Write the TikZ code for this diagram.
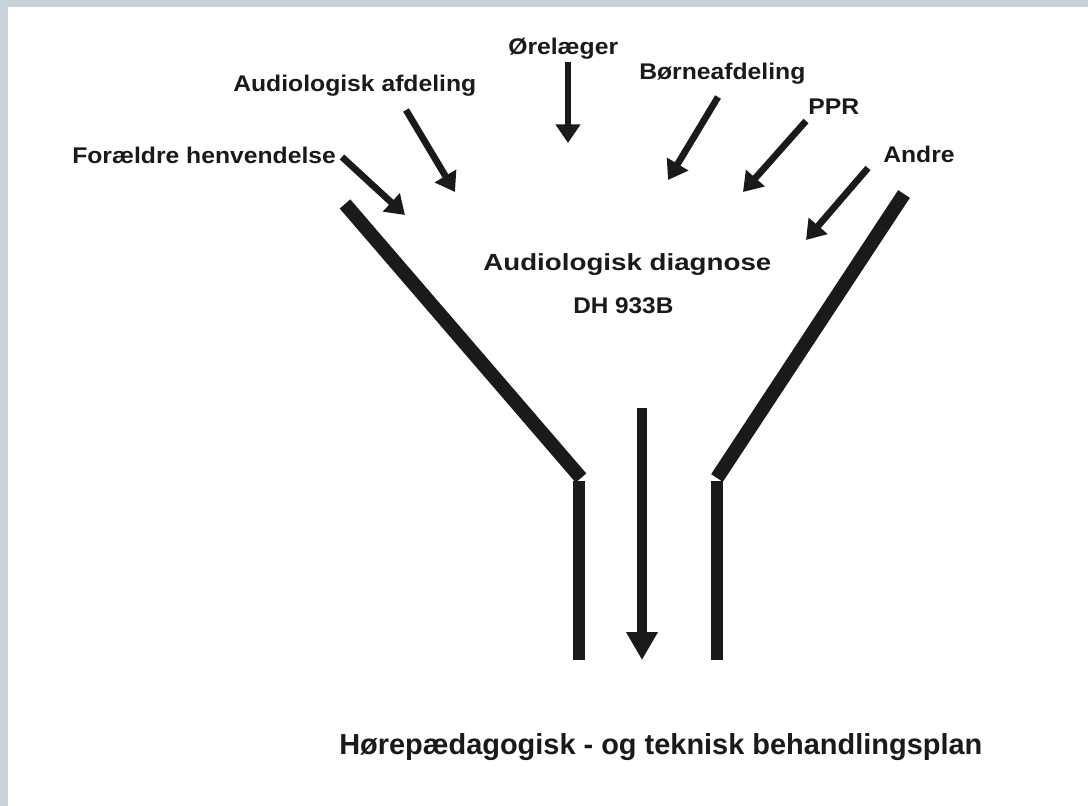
\documentclass[tikz,border=0pt]{standalone}
\usepackage{fontspec}
\setmainfont{Liberation Sans}
\usetikzlibrary{arrows.meta}
\definecolor{frame}{RGB}{200,210,217}
\definecolor{ink}{RGB}{26,26,26}
\begin{document}
\begin{tikzpicture}[x=0.75pt,y=-0.75pt,
  lab/.style={anchor=base west,inner sep=0pt,text=ink,font=\fontsize{17pt}{20pt}\selectfont\bfseries,xscale=1.09,transform shape},
  inarrow/.style={draw=ink,line width=5pt,-{Triangle[length=14pt,width=18pt]}},
  bigarrow/.style={draw=ink,line width=7.5pt,-{Triangle[length=21pt,width=22.5pt]}},
  wall/.style={draw=ink,line width=10.5pt},
  stem/.style={draw=ink,line width=9pt}]
\useasboundingbox (0,0) rectangle (1088,806);
\fill[frame] (0,0) rectangle (1088,806);
\fill[white] (8,7) rectangle (1088,806);

% labels
\node[lab] (foraeldre) at (72,164) {Forældre henvendelse};
\node[lab] (audafd) at (233,92) {Audiologisk afdeling};
\node[lab] (orelaeger) at (508,55) {Ørelæger};
\node[lab] (borne) at (639,80) {Børneafdeling};
\node[lab] (ppr) at (808,115) {PPR};
\node[lab] (andre) at (883,163) {Andre};
\node[lab,font=\fontsize{17.5pt}{20pt}\selectfont\bfseries,xscale=1.09] (diag) at (483,270) {Audiologisk diagnose};
\node[lab,xscale=0.985] (dh) at (573,313) {DH 933B};
\node[anchor=base west,inner sep=0pt,text=ink,font=\fontsize{21.7pt}{25pt}\selectfont\bfseries] (plan) at (339,754) {Hørepædagogisk - og teknisk behandlingsplan};

% incoming arrows
\coordinate (a1s) at (342,157); \coordinate (a1e) at (405,215);
\coordinate (a2s) at (406,110); \coordinate (a2e) at (455,192);
\coordinate (a3s) at (568,62);  \coordinate (a3e) at (568,143);
\coordinate (a4s) at (718,97);  \coordinate (a4e) at (668,180);
\coordinate (a5s) at (806,121); \coordinate (a5e) at (743,192);
\coordinate (a6s) at (868,168); \coordinate (a6e) at (806,240);
\draw[inarrow] (a1s) -- (a1e);
\draw[inarrow] (a2s) -- (a2e);
\draw[inarrow] (a3s) -- (a3e);
\draw[inarrow] (a4s) -- (a4e);
\draw[inarrow] (a5s) -- (a5e);
\draw[inarrow] (a6s) -- (a6e);

% funnel
\coordinate (lt) at (345,204); \coordinate (lb) at (581,478);
\coordinate (rt) at (904,194); \coordinate (rb) at (717,478);
\draw[wall] (lt) -- (lb);
\draw[wall] (rt) -- (rb);
\draw[stem] (579,481) -- (579,660);
\draw[stem] (717,481) -- (717,660);

% central arrow
\coordinate (cs) at (642,408); \coordinate (ce) at (642,660);
\draw[bigarrow] (cs) -- (ce);
\end{tikzpicture}
\end{document}
